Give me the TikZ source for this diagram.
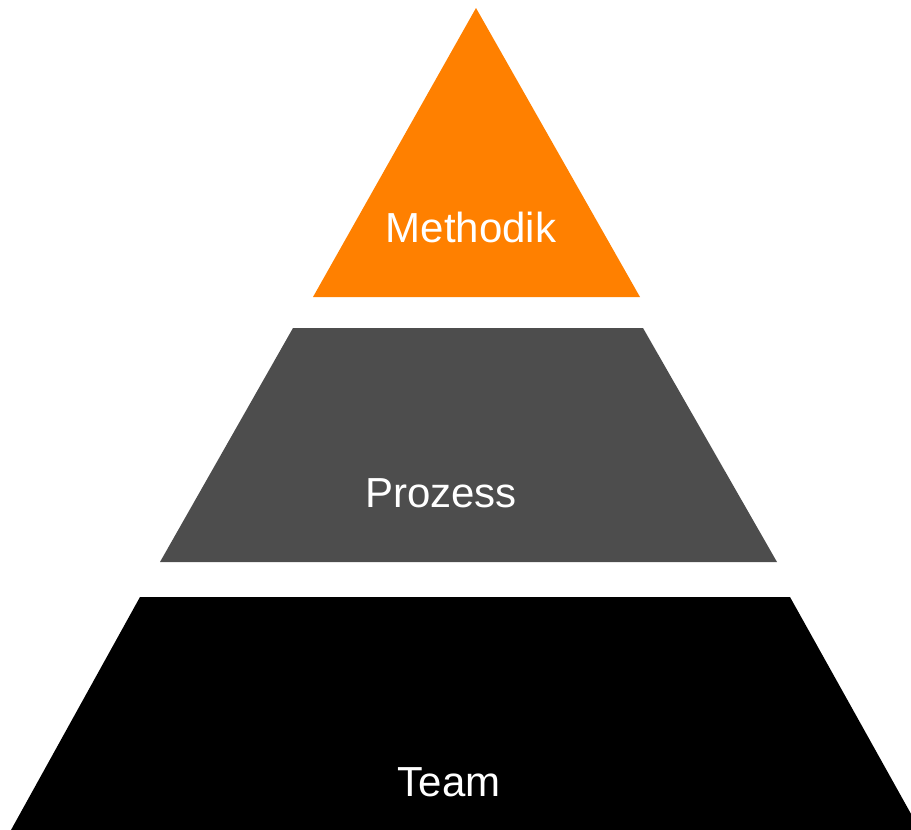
\documentclass[tikz,border=0pt]{standalone}
\usepackage{fontspec}
\setmainfont{Liberation Sans}
\definecolor{porange}{HTML}{FF8000}
\definecolor{pgray}{HTML}{4D4D4D}
\begin{document}
\begin{tikzpicture}[x=1pt,y=-1pt,
  lbl/.style={text=white,anchor=base,inner sep=0pt,font=\fontsize{42}{50}\selectfont}]
\useasboundingbox (0,0) rectangle (911,830);
% top triangle
\coordinate (t1) at (476,8);
\coordinate (t2) at (640,297);
\coordinate (t3) at (313,297);
\fill[porange] (t1) -- (t2) -- (t3) -- cycle;
% middle trapezoid
\coordinate (m1) at (293,328);
\coordinate (m2) at (643,328);
\coordinate (m3) at (777,562);
\coordinate (m4) at (160,562);
\fill[pgray] (m1) -- (m2) -- (m3) -- (m4) -- cycle;
% bottom trapezoid
\coordinate (b1) at (140,597);
\coordinate (b2) at (790,597);
\coordinate (b3) at (920,830);
\coordinate (b4) at (11,830);
\fill[black] (b1) -- (b2) -- (b3) -- (b4) -- cycle;
\node[lbl] (methodik) at (471,242) {Methodik};
\node[lbl] (prozess) at (441,507) {Prozess};
\node[lbl] (team) at (449,796) {Team};
\end{tikzpicture}
\end{document}
